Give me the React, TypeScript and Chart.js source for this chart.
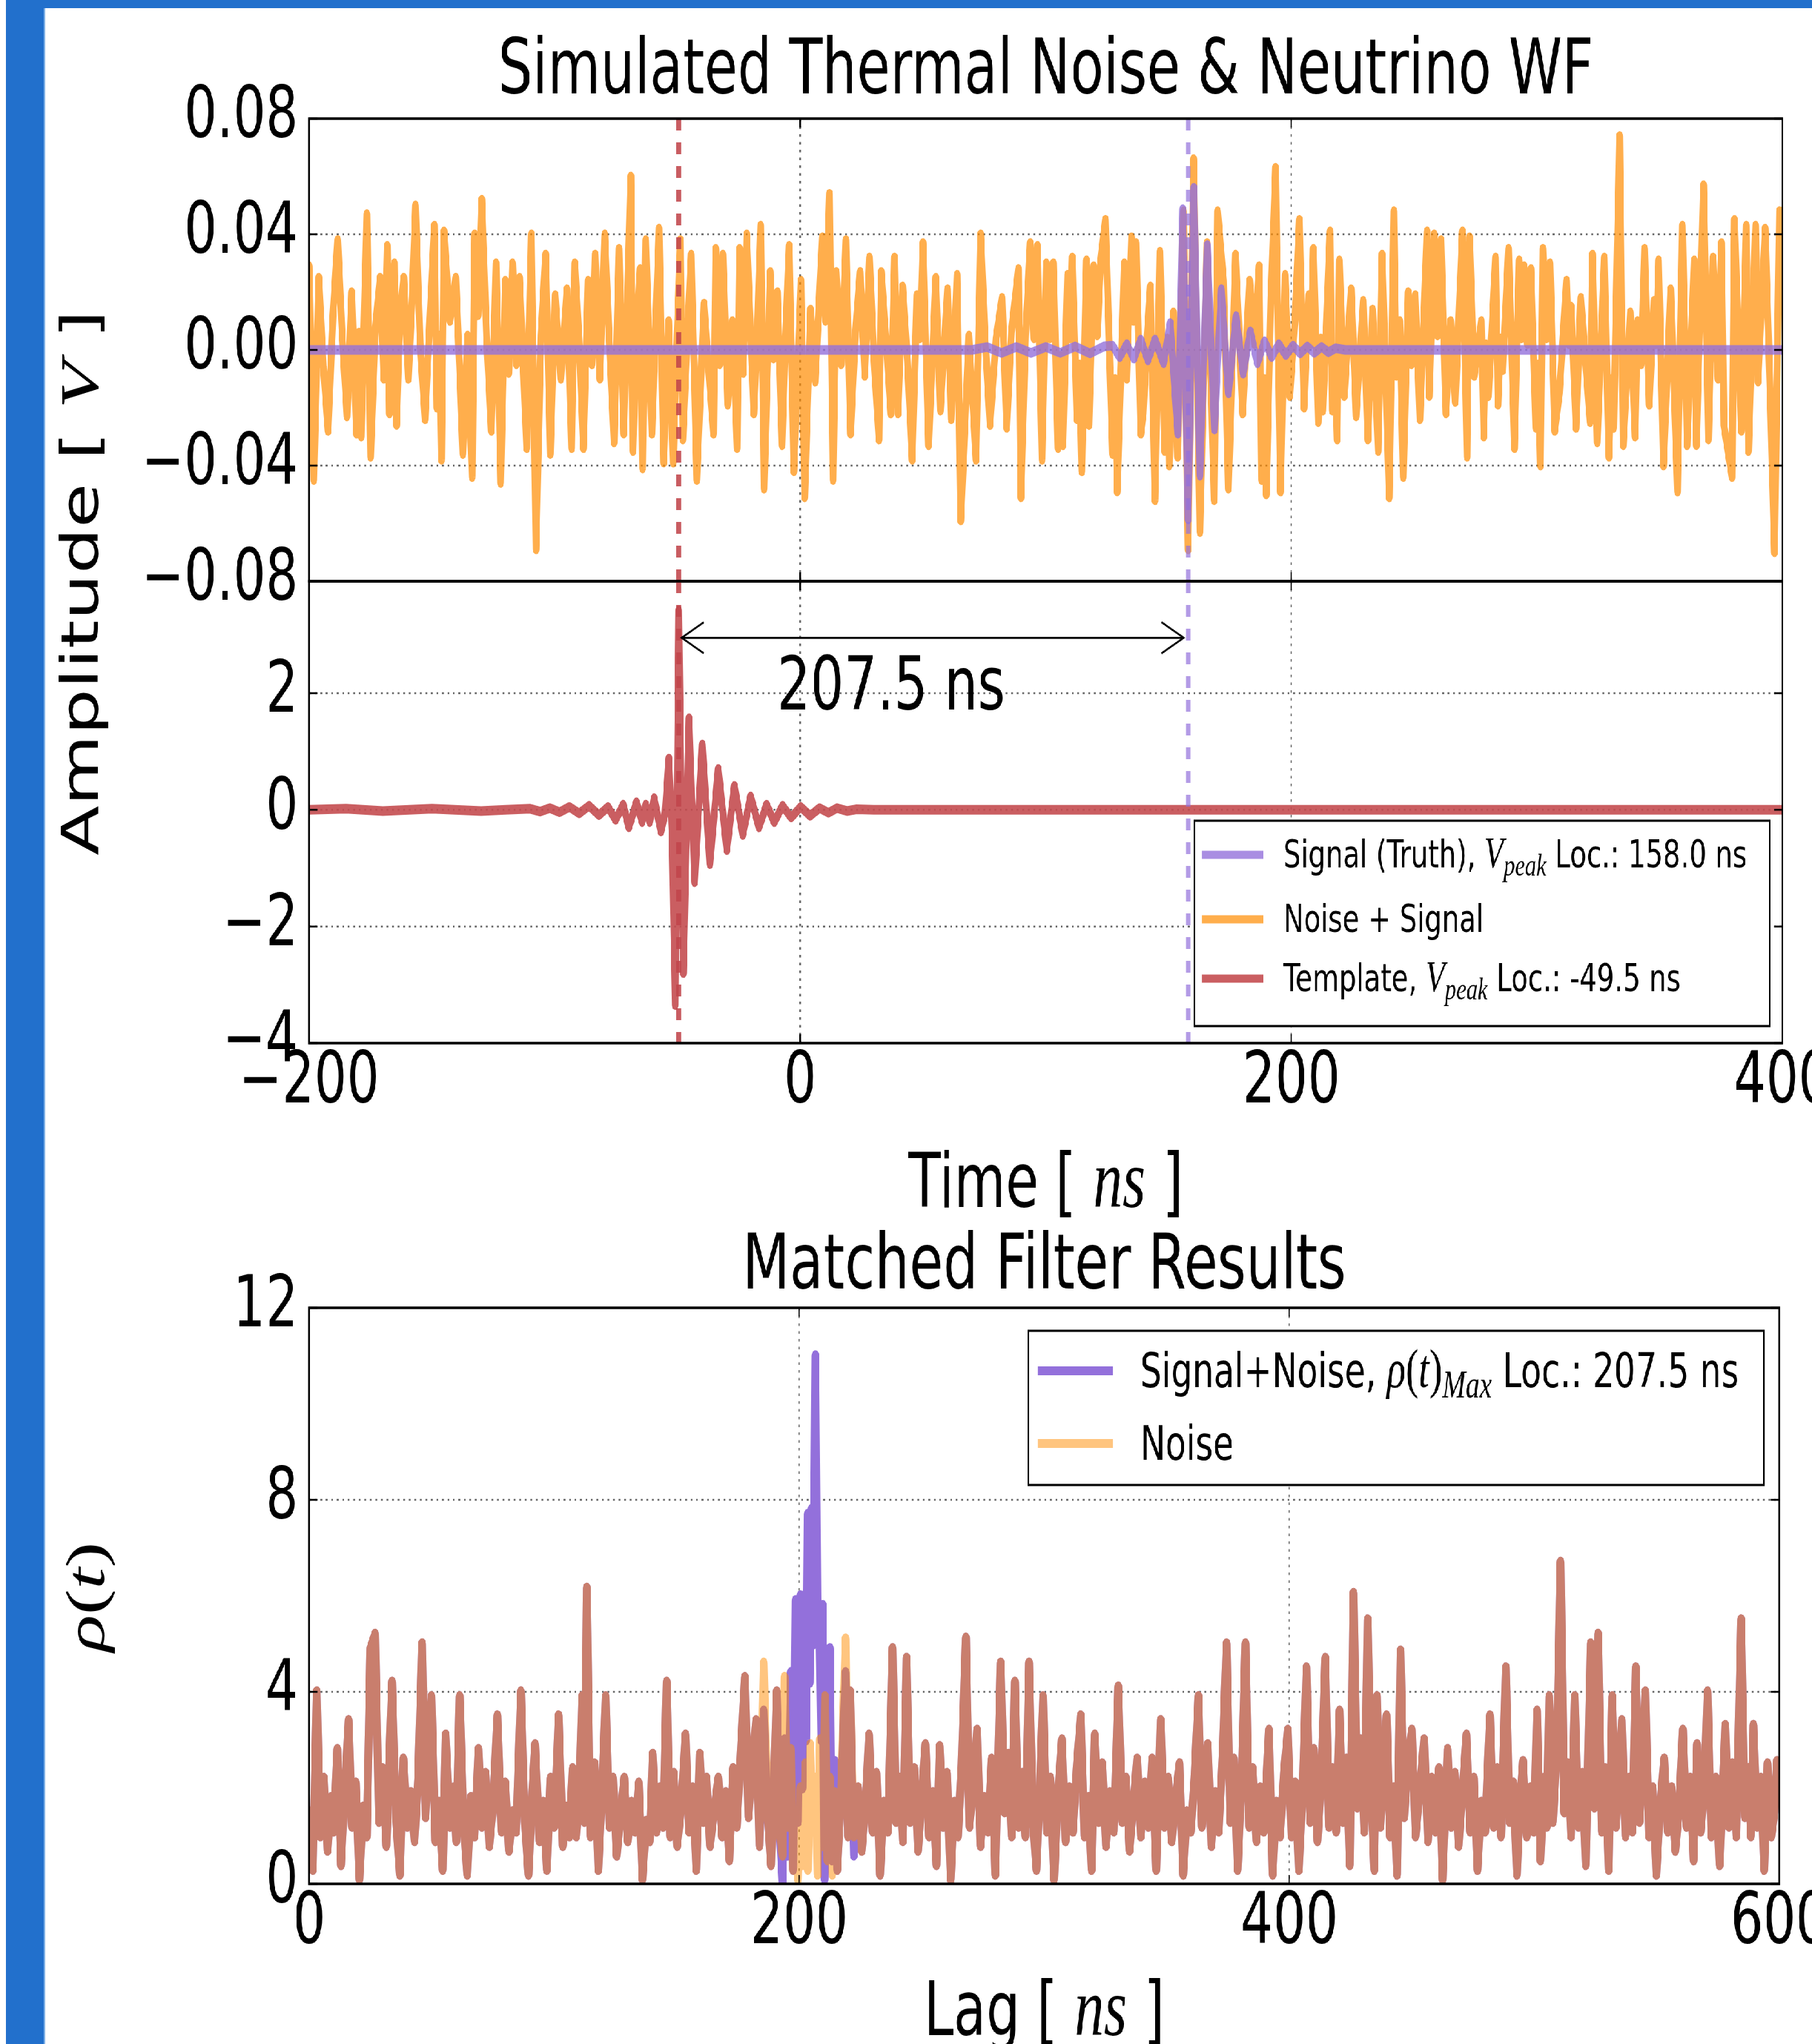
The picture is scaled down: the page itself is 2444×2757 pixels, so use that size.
import React, { useEffect, useRef } from 'react';
import { Chart, registerables } from 'chart.js';

Chart.register(...registerables);

// ---------------- ticks ----------------
const timeTicks = [-200, 0, 200, 400];
const timeTickLabels = ['\u2212200', '0', '200', '400'];
const ampTicks = [-0.08, -0.04, 0, 0.04, 0.08];
const ampTickLabels = ['\u22120.08', '\u22120.04', '0.00', '0.04', '0.08'];
const tplTicks = [-4, -2, 0, 2];
const tplTickLabels = ['\u22124', '\u22122', '0', '2'];
const lagTicks = [0, 200, 400, 600];
const lagTickLabels = ['0', '200', '400', '600'];
const rhoTicks = [0, 4, 8, 12];
const rhoTickLabels = ['0', '4', '8', '12'];

// ---------------- top panel: noise + signal (V) ----------------
const noisyTime = [
  -200, -198.1, -196.1, -194.2, -192.3, -190.3, -188.4, -186.5, -184.6, -182.7,
  -180.7, -179.7, -178.8, -176.5, -175.0, -173.0, -171.1, -169.6, -168.2, -167.3,
  -165.3, -164.4, -163.0, -161.5, -159.6, -158.2, -156.7, -154.8, -152.8, -150.9,
  -149.0, -148.0, -147.0, -146.1, -145.1, -142.7, -140.3, -138.8, -137.4, -135.5,
  -133.6, -132.6, -131.2, -129.7, -127.7, -125.8, -123.9, -122.0, -120.1, -118.7,
  -117.2, -115.6, -114.3, -111.4, -109.5, -107.6, -105.6, -103.7, -101.8, -99.8,
  -97.5, -95.0, -93.1, -91.8, -90.0, -88.3, -86.4, -84.8, -83.5, -81.6,
  -79.6, -77.7, -75.8, -73.8, -71.9, -69.0, -68.1, -66.6, -65.2, -64.2,
  -62.9, -60.4, -59.0, -57.5, -55.6, -53.6, -51.7, -50.2, -48.8, -47.8,
  -46.0, -44.4, -42.1, -39.2, -37.2, -35.3, -34.4, -32.8, -31.5, -29.5,
  -27.6, -25.7, -24.7, -23.2, -21.8, -18.9, -17.5, -16.1, -14.7, -12.2,
  -10.9, -9.3, -7.4, -6.0, -4.5, -2.6, 0.3, 1.8, 4.2, 6.1,
  9.0, 10.3, 11.9, 13.4, 14.7, 16.7, 18.6, 20.5, 22.5, 24.4,
  26.3, 28.2, 30.1, 32.1, 33.0, 35.0, 36.9, 38.4, 39.8, 41.7,
  43.7, 45.6, 47.5, 48.8, 50.0, 52.3, 55.2, 57.1, 60.0, 61.5,
  63.9, 65.4, 68.7, 71.6, 73.5, 75.4, 77.3, 79.8, 82.2, 84.1,
  86.0, 88.9, 89.9, 91.8, 93.7, 95.2, 96.6, 98.5, 100.2, 101.7,
  103.1, 105.0, 106.0, 107.0, 108.9, 109.9, 110.8, 112.7, 113.7, 114.7,
  116.6, 117.6, 119.5, 121.0, 122.4, 124.3, 127.2, 128.2, 129.1, 132.0,
  133.0, 134.9, 135.8, 136.8, 138.7, 139.7, 141.2, 142.6, 144.5, 146.5,
  148.4, 149.5, 150.3, 152.0, 153.7, 155.0, 156.1, 158.0, 160.2, 162.8,
  165.7, 168.6, 170.0, 172.4, 174.4, 177.3, 180.2, 182.0, 183.0, 185.0,
  186.9, 187.9, 188.9, 189.8, 191.7, 193.6, 195.6, 197.5, 199.4, 201.5,
  203.3, 205.2, 207.1, 208.1, 209.0, 211.0, 212.0, 212.9, 215.8, 216.7,
  217.7, 218.7, 219.6, 221.6, 224.4, 226.4, 229.3, 231.2, 233.1, 235.4,
  237.0, 239.9, 241.8, 242.8, 244.2, 245.6, 247.6, 249.0, 250.5, 252.4,
  255.3, 256.2, 258.2, 259.6, 261.0, 263.0, 264.9, 266.8, 269.7, 271.6,
  272.6, 274.5, 277.4, 278.4, 279.3, 280.3, 283.2, 284.2, 285.2, 286.1,
  288.5, 290.9, 292.8, 293.8, 294.8, 296.2, 297.6, 299.6, 300.5, 301.5,
  302.5, 304.0, 305.4, 307.3, 309.2, 312.1, 313.0, 314.0, 316.0, 317.9,
  321.7, 322.7, 324.6, 327.5, 329.4, 330.4, 331.3, 333.7, 335.2, 338.1,
  340.0, 341.0, 342.5, 343.9, 345.8, 347.7, 348.7, 349.6, 351.6, 354.5,
  357.3, 359.3, 361.2, 364.1, 365.0, 367.9, 369.9, 371.8, 373.8, 375.2,
  376.2, 379.5, 380.5, 383.3, 385.3, 386.2, 389.1, 390.1, 393.0, 394.9,
  396.8, 398.8, 400,
];
const noisyVolt = [
  0.029, -0.045, 0.025, -0.006, -0.028, 0.012, 0.038, 0.004, -0.023, 0.020,
  -0.029, 0.006, -0.030, 0.047, -0.037, 0.008, 0.025, -0.010, 0.036, -0.022,
  0.030, -0.026, 0.012, 0.025, -0.010, 0.015, 0.050, 0.002, -0.024, 0.010,
  0.043, -0.020, 0.005, -0.038, 0.041, 0.010, 0.025, -0.005, -0.036, 0.005,
  -0.044, 0.040, 0.012, 0.052, 0.004, -0.028, 0.030, -0.046, 0.024, -0.008,
  0.030, -0.005, 0.025, -0.034, 0.040, -0.069, 0.005, 0.033, -0.036, 0.019,
  -0.010, 0.021, -0.034, 0.030, 0.002, -0.034, 0.024, -0.005, 0.033, -0.010,
  0.040, 0.002, -0.032, 0.035, -0.029, 0.060, -0.035, 0.008, 0.028, -0.041,
  0.038, -0.029, 0.006, 0.042, -0.039, 0.010, -0.039, 0.005, 0.038, -0.031,
  0.004, 0.033, -0.045, 0.016, -0.008, -0.029, 0.035, -0.005, 0.033, -0.019,
  0.010, -0.034, 0.035, -0.008, 0.040, -0.022, 0.005, 0.043, -0.048, 0.027,
  -0.003, 0.020, -0.033, 0.004, 0.036, -0.042, 0.024, -0.051, 0.014, -0.011,
  0.039, 0.010, 0.054, -0.045, 0.027, -0.005, 0.038, -0.029, 0.006, 0.027,
  -0.009, 0.032, -0.004, -0.031, 0.027, 0.003, -0.022, 0.032, -0.022, 0.022,
  -0.004, -0.038, 0.019, 0.004, 0.037, -0.033, 0.025, -0.021, 0.021, -0.024,
  0.026, -0.059, 0.005, -0.038, 0.040, 0.002, -0.026, 0.004, 0.018, -0.027,
  0.006, 0.028, -0.051, 0.005, 0.037, 0.004, 0.036, -0.038, 0.030, 0.004,
  0.030, -0.034, -0.002, -0.033, 0.026, 0.004, 0.032, -0.024, -0.005, -0.042,
  0.031, -0.026, 0.029, 0.005, 0.031, 0.045, -0.036, -0.010, -0.049, 0.030,
  -0.010, 0.039, 0.010, 0.037, -0.029, -0.022, 0.004, 0.022, -0.052, 0.034,
  -0.035, 0.004, -0.040, 0.013, -0.037, 0.010, 0.048, -0.069, 0.066, -0.063,
  0.037, -0.052, 0.048, 0.024, -0.048, 0.033, -0.022, 0.008, 0.024, 0.002,
  0.029, -0.045, -0.010, -0.050, 0.018, 0.063, -0.049, 0.026, -0.016, 0.010,
  0.045, -0.020, 0.019, 0.002, 0.035, -0.025, 0.004, -0.021, 0.041, -0.021,
  -0.002, -0.031, 0.031, -0.016, 0.021, -0.023, 0.017, -0.031, 0.014, -0.035,
  0.033, -0.051, 0.048, -0.009, 0.010, -0.044, 0.020, -0.005, 0.019, -0.024,
  0.041, -0.016, 0.040, 0.005, 0.038, -0.022, 0.010, -0.018, 0.041, -0.037,
  0.039, -0.009, 0.010, -0.030, 0.002, -0.016, 0.032, -0.019, 0.004, -0.007,
  0.035, -0.034, 0.031, 0.004, 0.029, 0.002, 0.028, -0.027, -0.005, -0.040,
  0.035, 0.004, 0.030, -0.028, -0.015, 0.024, 0.002, 0.015, -0.027, 0.018,
  -0.025, 0.033, -0.032, 0.032, -0.037, -0.010, -0.027, 0.074, -0.033, 0.013,
  -0.030, 0.010, -0.005, 0.035, -0.019, 0.017, 0.002, 0.031, -0.040, 0.021,
  -0.049, 0.043, -0.033, 0.031, -0.033, 0.057, -0.031, 0.032, -0.010, 0.037,
  -0.026, -0.044, 0.045, -0.028, 0.043, -0.035, 0.043, -0.011, 0.042, -0.011,
  -0.070, 0.048, 0.040,
];

// ---------------- top panel: signal truth (V) ----------------
const truthTime = [
  -200, 70, 76, 82, 88, 94, 100, 106, 112, 118, 124, 127.2, 130.1, 133.0, 135.9,
  138.7, 141.6, 144.5, 148.0, 150.7, 153.8, 155.8, 158.0, 160.3, 162.8, 165.8,
  168.7, 171.5, 174.4, 177.5, 180.4, 183.3, 186.2, 189.1, 192.0, 194.9, 197.8,
  200.7, 203.6, 206.5, 209.4, 212.3, 215.2, 218, 222, 400,
];
const truthVolt = [
  0, 0, 0.001, -0.001, 0.001, -0.001, 0.001, -0.001, 0.0012, -0.0012, 0.0013, 0.0015, -0.0025, 0.002, -0.003,
  0.0036, -0.0036, 0.0036, -0.0046, 0.0093, -0.029, 0.0487, -0.0586, 0.0561, -0.0435, 0.0363,
  -0.0275, 0.021, -0.015, 0.0117, -0.0082, 0.0064, -0.0046, 0.003, -0.0025, 0.002, -0.0018,
  0.0015, -0.0012, 0.0012, -0.001, 0.001, -0.0008, 0.0006, 0, 0,
];

// ---------------- middle panel: template ----------------
const tplTime = [
  -200, -185, -170, -150, -130, -120, -110, -106, -102, -98, -94, -90, -86, -82,
  -78.3, -75.2, -72.1, -69.8, -66.7, -64.4, -62.9, -61.3, -59.5, -56.7, -55.0, -53.5,
  -52.2, -50.9, -49.5, -47.6, -45.3, -43.0, -39.9, -36.8, -33.4, -29.9, -26.8, -23.4,
  -20.2, -16.8, -13.7, -10.6, -7.2, -3.7, 0.2, 4.0, 7.9, 11.5, 15, 19, 23, 30, 400,
];
const tplVolt = [
  0, 0.02, -0.02, 0.02, -0.02, 0, 0.02, -0.03, 0.03, -0.04, 0.05, -0.06, 0.07, -0.09,
  0.05, -0.17, 0.09, -0.30, 0.13, -0.21, 0.09, -0.21, 0.20, -0.37, -0.05, 0.88,
  -0.40, -3.35, 3.42, -2.80, 1.57, -1.24, 1.12, -0.93, 0.70, -0.69, 0.41, -0.43,
  0.23, -0.30, 0.09, -0.21, 0.07, -0.13, 0.05, -0.10, 0.03, -0.05, 0.03, -0.02, 0.01, 0, 0,
];

// ---------------- bottom panel: matched filter rho(t) ----------------
const lag = [
  0, 1.5, 3.1, 4.5, 6, 7.5, 9, 10, 11.5, 13,
  14.5, 16.1, 17.5, 19, 20.5, 22, 23.5, 25, 26.9, 28.5,
  30, 31.5, 33.8, 35.5, 37, 38.4, 40, 41.5, 43, 44.5,
  46.1, 47.5, 49.9, 51.5, 53, 54.5, 55.7, 57.5, 59, 60,
  61.4, 63, 64.5, 66, 67.5, 69.1, 70.5, 72, 73.5, 75,
  76.8, 78.5, 80, 81.5, 83, 84.5, 86.4, 88, 89.5, 91,
  92.2, 94, 95.5, 97, 98.5, 100, 101.8, 103.5, 105, 106.2,
  107.5, 109, 110.2, 111.4, 112.3, 113.3, 114.8, 116.5, 118, 119.5,
  121, 122.5, 124, 125.5, 127, 128.6, 130, 131.5, 133, 134.5,
  136, 137.5, 139, 140.2, 141.8, 143.2, 144.5, 145.9, 147.3, 148.8,
  150.2, 151.8, 153.6, 155, 156.5, 158, 159.4, 160.8, 162.2, 163.6,
  165.2, 167, 168.5, 170, 171.5, 173, 174.5, 176, 177.8, 179.3,
  180.8, 182.4, 183.8, 185.5, 187, 188.5, 190, 190.8, 192.2, 193.2,
  194, 195.3, 196.6, 197.5, 198.5, 199.5, 200.5, 201.5, 202.5, 203.5,
  204.5, 205.5, 206.6, 207.5, 208.5, 209.5, 210.5, 211.5, 212.5, 213.5,
  214.5, 215.5, 217, 218.9, 219.9, 220.8, 222.3, 224, 225.5, 227,
  228.5, 230, 231.5, 233, 234.5, 236.2, 238.1, 239.5, 241, 242.3,
  243.8, 245.3, 247, 248.5, 250, 251.5, 253, 254.5, 256, 257.3,
  258.8, 260.3, 261.8, 263.3, 264.8, 266.3, 268, 269.5, 271, 272.6,
  274, 275.5, 277, 278.5, 280, 282.2, 283.8, 285.3, 286.7, 288,
  289.5, 291, 292.3, 293.8, 295.3, 296.8, 298.2, 299.5, 301, 302.5,
  304, 305.6, 307.2, 308.7, 310.2, 311.7, 313.2, 314.9, 316.4, 318,
  319.3, 320.6, 322.2, 323.7, 325.2, 326.7, 328.4, 330.2, 331.8, 333.3,
  334.8, 336.3, 337.9, 339.4, 341, 342.5, 344, 345.7, 347.5, 349,
  350.6, 352, 353.6, 355.2, 356.7, 358.2, 359.8, 361.3, 362.9, 364.3,
  365.5, 366.7, 368.2, 369.7, 371.2, 372.8, 374.4, 375.9, 377.4, 378.9,
  380.5, 382.1, 383.6, 385.1, 386.6, 388.1, 389.6, 391.7, 393.2, 394.7,
  396.2, 397.8, 399.4, 400.9, 402.4, 403.9, 405.4, 407, 408.5, 410,
  411.5, 413, 414.7, 416.2, 417.7, 419.1, 420.5, 421.9, 423.3, 424.7,
  426.2, 427.7, 429.1, 430.6, 432, 433.5, 434.7, 435.8, 437.2, 438.5,
  439.7, 441.1, 442.6, 444, 445.4, 446.9, 448.4, 450, 451.5, 453,
  455, 456.6, 458.1, 459.6, 461.1, 462.6, 464.6, 466.1, 467.6, 469.1,
  470.6, 472.3, 473.8, 475.3, 476.8, 478.3, 479.9, 481.9, 483.4, 484.9,
  486.4, 488.4, 489.9, 491.4, 492.9, 494.2, 495.4, 496.9, 498.4, 499.8,
  501.1, 502.5, 504, 505.1, 506.1, 507.6, 509.2, 510.7, 512.2, 513.7,
  515, 516.5, 518, 519.5, 521, 523, 524.5, 526, 527.5, 529,
  530.4, 531.8, 533.3, 534.5, 535.7, 537.2, 538.7, 540, 541.4, 542.9,
  544.1, 545.3, 546.8, 548.3, 549.8, 551.5, 553, 554.5, 556, 557.5,
  559, 560.6, 562.1, 563.6, 565, 566.4, 567.9, 569.4, 570.7, 572.2,
  574.1, 575.6, 577.9, 579.4, 580.9, 582.4, 584.4, 585.9, 587.4, 588.4,
  589.4, 590.9, 592.4, 593.8, 595.2, 596.7, 598, 599, 600,
];
const rhoNoise = [
  1.5, 0.3, 4.0, 1.0, 2.2, 0.7, 1.8, 1.1, 2.8, 0.4,
  1.9, 3.4, 1.2, 2.1, 0.1, 1.6, 1.0, 4.9, 5.2, 1.3,
  2.4, 0.8, 4.2, 1.3, 0.2, 2.6, 1.2, 1.9, 0.9, 2.2,
  5.0, 1.4, 3.9, 0.9, 1.7, 0.3, 3.1, 1.2, 2.0, 0.9,
  3.9, 1.3, 0.2, 1.8, 1.0, 2.8, 1.2, 2.3, 0.8, 1.6,
  3.5, 1.1, 2.1, 0.7, 1.5, 1.1, 4.0, 1.3, 0.2, 1.9,
  2.9, 0.9, 1.7, 0.3, 2.2, 1.2, 3.5, 0.8, 1.6, 1.0,
  2.4, 1.0, 1.8, 3.9, 1.3, 6.16, 1.0, 2.5, 0.3, 1.9,
  3.9, 1.2, 2.2, 0.6, 1.4, 2.2, 0.9, 1.7, 1.1, 2.1,
  0.1, 1.3, 0.9, 2.7, 1.1, 2.0, 1.2, 4.2, 1.0, 2.3,
  0.8, 1.6, 3.1, 1.1, 2.0, 0.3, 2.7, 1.3, 2.2, 0.8,
  1.5, 2.2, 1.0, 1.9, 0.5, 2.4, 1.2, 2.6, 4.3, 1.4,
  2.5, 3.4, 0.8, 4.6, 1.5, 0.4, 2.6, 4.0, 1.0, 0.6,
  4.3, 1.2, 2.8, 0.3, 1.2, 0.1, 2.0, 0.4, 2.5, 0.3,
  2.9, 1.1, 2.2, 0.2, 3.0, 0.8, 3.9, 0.5, 2.2, 0.2,
  1.9, 0.3, 1.8, 5.1, 1.0, 4.0, 1.0, 2.0, 0.7, 1.6,
  3.1, 1.1, 2.3, 0.2, 1.7, 1.1, 4.9, 1.3, 2.2, 0.9,
  4.7, 1.3, 2.4, 0.7, 1.8, 2.9, 1.0, 1.9, 0.4, 2.86,
  1.2, 2.3, 0.1, 1.7, 1.0, 2.5, 5.12, 1.2, 2.0, 3.2,
  0.8, 1.8, 1.1, 2.6, 0.2, 4.6, 1.5, 2.7, 1.0, 4.2,
  1.2, 2.3, 1.0, 4.6, 1.4, 0.3, 2.0, 3.9, 1.1, 2.2,
  0.1, 1.9, 3.0, 0.9, 2.0, 1.1, 2.4, 3.5, 1.0, 1.8,
  0.3, 3.1, 1.3, 2.5, 0.8, 1.9, 1.1, 4.1, 1.3, 2.2,
  0.7, 1.6, 2.6, 1.0, 2.1, 1.2, 2.6, 0.3, 3.4, 1.2,
  2.2, 0.9, 1.8, 2.5, 0.2, 1.5, 1.1, 2.2, 3.9, 1.2,
  2.0, 2.9, 0.8, 1.9, 1.1, 2.7, 5.0, 1.3, 2.6, 0.3,
  2.1, 5.0, 1.2, 2.4, 0.9, 2.0, 1.1, 3.2, 0.2, 1.7,
  1.0, 2.3, 3.2, 1.0, 2.1, 0.3, 1.9, 4.5, 1.3, 2.8,
  0.9, 2.2, 4.7, 1.2, 2.4, 1.1, 3.6, 1.3, 2.6, 0.4,
  6.05, 1.6, 3.0, 1.1, 5.5, 1.8, 0.3, 3.9, 1.2, 2.4,
  3.5, 1.0, 2.0, 0.2, 4.85, 1.4, 2.6, 3.2, 1.0, 1.8,
  3.0, 0.9, 2.2, 1.1, 2.4, 0.1, 2.8, 1.2, 2.3, 0.8,
  1.9, 3.1, 1.1, 2.2, 0.3, 1.7, 1.1, 3.5, 1.2, 2.4,
  1.0, 4.5, 1.3, 2.1, 0.2, 1.8, 2.55, 1.0, 2.0, 1.1,
  3.6, 0.5, 2.2, 1.2, 3.9, 1.3, 2.8, 6.7, 1.5, 2.5,
  1.0, 3.9, 1.2, 2.3, 0.4, 5.0, 1.6, 5.2, 1.1, 2.4,
  0.3, 3.9, 1.2, 2.1, 3.4, 1.0, 2.2, 1.1, 4.5, 1.3,
  2.5, 4.0, 1.0, 2.0, 0.2, 1.7, 2.6, 1.1, 2.0, 0.7,
  1.5, 3.2, 1.2, 2.2, 0.5, 2.9, 1.1, 2.0, 4.0, 1.0,
  2.2, 0.4, 3.3, 1.2, 2.5, 1.0, 5.5, 1.4, 2.4, 1.0,
  3.3, 1.2, 2.2, 0.3, 2.5, 1.0, 1.5, 2.55, 1.8,
];
// signal+noise differs from noise only around the correlation peak
const peakLag = [
  183.8, 185.5, 187, 188.5, 190, 190.8, 192.2, 193.2, 194, 195.3,
  196.6, 197.5, 198.5, 199.5, 200.5, 201.3, 202, 202.8, 203.5, 204.3,
  205, 205.8, 206.6, 207.4, 208.2, 209, 209.6, 210.3, 211.2, 212.5,
  213.3, 214.5, 215.5, 217, 218.9, 219.9, 220.8, 222.3,
];
const peakRhoSignal = [
  0.8, 3.6, 1.5, 0.4, 2.6, 4.0, 1.0, 0.0, 3.0, 0.6,
  4.4, 0.3, 5.9, 1.3, 6.0, 2.0, 6.0, 3.0, 7.7, 4.2,
  7.8, 5.0, 11.0, 5.5, 5.8, 3.0, 5.8, 0.1, 2.5, 4.9,
  0.5, 2.55, 0.3, 1.8, 4.4, 1.0, 4.0, 0.6,
];

// annotation values
const truthPeakLoc = 158.0;
const tplPeakLoc = -49.5;
const arrowSpan = [-48.3, 156.2];
const arrowLevel = 2.95;

// ---------------- geometry / styles ----------------
const SX = 0.71;
const PAGE_W = 2444;
const PAGE_H = 2757;
const CANVAS_W = Math.ceil(PAGE_W / SX);
const wx = (x: number) => x / SX;
const PLOT_LEFT = 417;

const SANS = '"DejaVu Sans", "Liberation Sans", sans-serif';
const SERIF = '"Liberation Serif", "DejaVu Serif", serif';
const sans = (s: number) => `${s}px ${SANS}`;
const mIt = (s: number) => `italic ${s}px ${SERIF}`;
const mUp = (s: number) => `${s}px ${SERIF}`;

const ORANGE_T = 'rgba(255,140,0,0.7)';
const PURPLE_T = 'rgba(147,112,219,0.8)';
const RED_T = 'rgba(196,76,80,0.9)';
const PURPLE_B = 'rgb(147,112,219)';
const ORANGE_B = 'rgba(255,140,0,0.5)';
const RED_DASH = 'rgba(192,70,75,0.88)';
const PURPLE_DASH = 'rgba(147,112,219,0.7)';

const LW_TOP = 13;
const LW_BOTTOM = 15;

type Run = { t: string; f: string; dy?: number };
type TextItem = { runs: Run[]; x: number; y: number; align: 'left' | 'center'; rot?: boolean; data?: boolean };
type LegendRow = { color: string; lw: number; runs: Run[] };
type LegendCfg = {
  x1: number; y1: number; x2: number; y2: number;
  sx1: number; sx2: number; tx: number; rowsY: number[]; base: number; rows: LegendRow[];
};
type DecorCfg = {
  xTicks: number[]; yTicks: number[];
  vlines?: { v: number; color: string }[];
  texts?: TextItem[];
  legend?: LegendCfg;
  arrow?: { x1: number; x2: number; y: number };
};

function runsWidth(ctx: CanvasRenderingContext2D, runs: Run[]) {
  let w = 0;
  for (const r of runs) { ctx.font = r.f; w += ctx.measureText(r.t).width; }
  return w;
}
function drawRuns(ctx: CanvasRenderingContext2D, runs: Run[], x: number, y: number, align: 'left' | 'center') {
  const w = runsWidth(ctx, runs);
  let cx = align === 'center' ? x - w / 2 : x;
  ctx.textAlign = 'left';
  ctx.textBaseline = 'alphabetic';
  for (const r of runs) {
    ctx.font = r.f;
    ctx.fillText(r.t, cx, y + (r.dy || 0));
    cx += ctx.measureText(r.t).width;
  }
}

function decorPlugin(id: string, cfg: DecorCfg) {
  return {
    id,
    beforeDatasetsDraw(chart: any) {
      const { ctx, chartArea: a } = chart;
      const xs = chart.scales.x, ys = chart.scales.y;
      ctx.save();
      ctx.strokeStyle = 'rgba(0,0,0,0.6)';
      ctx.lineWidth = 2.5;
      ctx.setLineDash([3.5, 7]);
      ctx.beginPath();
      for (const v of cfg.xTicks) {
        const p = xs.getPixelForValue(v);
        if (p > a.left + 3 && p < a.right - 3) { ctx.moveTo(p, a.top); ctx.lineTo(p, a.bottom); }
      }
      for (const v of cfg.yTicks) {
        const p = ys.getPixelForValue(v);
        if (p > a.top + 3 && p < a.bottom - 3) { ctx.moveTo(a.left, p); ctx.lineTo(a.right, p); }
      }
      ctx.stroke();
      ctx.restore();
    },
    afterDatasetsDraw(chart: any) {
      const { ctx, chartArea: a } = chart;
      const xs = chart.scales.x, ys = chart.scales.y;
      ctx.save();
      for (const vl of cfg.vlines || []) {
        const p = xs.getPixelForValue(vl.v);
        ctx.strokeStyle = vl.color;
        ctx.lineWidth = 9;
        ctx.setLineDash([16, 16]);
        ctx.beginPath(); ctx.moveTo(p, a.top); ctx.lineTo(p, a.bottom); ctx.stroke();
      }
      ctx.setLineDash([]);
      ctx.strokeStyle = '#000';
      ctx.lineWidth = 3.5;
      ctx.strokeRect(a.left, a.top, a.right - a.left, a.bottom - a.top);
      ctx.lineWidth = 2.5;
      ctx.beginPath();
      for (const v of cfg.xTicks) {
        const p = xs.getPixelForValue(v);
        ctx.moveTo(p, a.bottom); ctx.lineTo(p, a.bottom - 12);
        ctx.moveTo(p, a.top); ctx.lineTo(p, a.top + 12);
      }
      for (const v of cfg.yTicks) {
        const p = ys.getPixelForValue(v);
        ctx.moveTo(a.left, p); ctx.lineTo(a.left + 16, p);
        ctx.moveTo(a.right, p); ctx.lineTo(a.right - 16, p);
      }
      ctx.stroke();
      if (cfg.arrow) {
        const y = ys.getPixelForValue(cfg.arrow.y);
        const x1 = xs.getPixelForValue(cfg.arrow.x1);
        const x2 = xs.getPixelForValue(cfg.arrow.x2);
        const hl = wx(30), hw = 21;
        ctx.strokeStyle = '#000';
        ctx.lineWidth = 2.8;
        ctx.beginPath();
        ctx.moveTo(x1, y); ctx.lineTo(x2, y);
        ctx.moveTo(x1 + hl, y - hw); ctx.lineTo(x1, y); ctx.lineTo(x1 + hl, y + hw);
        ctx.moveTo(x2 - hl, y - hw); ctx.lineTo(x2, y); ctx.lineTo(x2 - hl, y + hw);
        ctx.stroke();
      }
      ctx.fillStyle = '#000';
      for (const t of cfg.texts || []) {
        let x = t.x, y = t.y;
        if (t.data) { x = xs.getPixelForValue(t.x); y = ys.getPixelForValue(t.y); }
        if (t.rot) {
          ctx.save();
          ctx.translate(x, y);
          ctx.rotate(-Math.PI / 2);
          drawRuns(ctx, t.runs, 0, 0, t.align);
          ctx.restore();
        } else {
          drawRuns(ctx, t.runs, x, y, t.align);
        }
      }
      if (cfg.legend) {
        const L = cfg.legend;
        ctx.fillStyle = '#fff';
        ctx.fillRect(L.x1, L.y1, L.x2 - L.x1, L.y2 - L.y1);
        ctx.strokeStyle = '#000';
        ctx.lineWidth = 3;
        ctx.strokeRect(L.x1, L.y1, L.x2 - L.x1, L.y2 - L.y1);
        L.rows.forEach((r, i) => {
          const y = L.rowsY[i];
          ctx.strokeStyle = r.color;
          ctx.lineWidth = r.lw;
          ctx.lineCap = 'butt';
          ctx.beginPath(); ctx.moveTo(L.sx1, y); ctx.lineTo(L.sx2, y); ctx.stroke();
          ctx.fillStyle = '#000';
          drawRuns(ctx, r.runs, L.tx, y + L.base, 'left');
        });
      }
      ctx.restore();
    },
  };
}

const TICK_FONT = { family: '"DejaVu Sans"', size: 97, lineHeight: 1.12 };

function buildConfig(p: {
  id: string; datasets: any[]; canvasH: number; top: number; bottom: number; right: number;
  xMin: number; xMax: number; yMin: number; yMax: number;
  xTicks: number[]; xLabels: string[]; showX: boolean;
  yTicks: number[]; yLabels: string[]; decor: DecorCfg;
}) {
  return {
    type: 'line',
    data: { datasets: p.datasets },
    options: {
      animation: false,
      responsive: false,
      devicePixelRatio: 1,
      events: [],
      layout: { padding: { left: 0, right: CANVAS_W - wx(p.right), top: p.top, bottom: 0 } },
      plugins: { legend: { display: false }, tooltip: { enabled: false }, title: { display: false } },
      elements: {
        point: { radius: 0 },
        line: { tension: 0, borderJoinStyle: 'round', borderCapStyle: 'round' },
      },
      scales: {
        x: {
          type: 'linear', min: p.xMin, max: p.xMax,
          grid: { display: false, drawTicks: false },
          border: { display: false },
          ticks: {
            display: p.showX, font: TICK_FONT, color: '#000', padding: 0,
            maxRotation: 0, autoSkip: false,
            callback: (_v: any, i: number) => p.xLabels[i],
          },
          afterBuildTicks: (s: any) => { s.ticks = p.xTicks.map((value) => ({ value })); },
          afterFit: (s: any) => {
            s.height = p.canvasH - p.bottom;
            s.paddingLeft = 0; s.paddingRight = 0; s.paddingTop = 0; s.paddingBottom = 0;
          },
        },
        y: {
          type: 'linear', min: p.yMin, max: p.yMax,
          grid: { display: false, drawTicks: false },
          border: { display: false },
          ticks: {
            font: TICK_FONT, color: '#000', padding: wx(PLOT_LEFT) - wx(402), autoSkip: false,
            callback: (_v: any, i: number) => p.yLabels[i],
          },
          afterBuildTicks: (s: any) => { s.ticks = p.yTicks.map((value) => ({ value })); },
          afterFit: (s: any) => {
            s.width = wx(PLOT_LEFT);
            s.paddingLeft = 0; s.paddingRight = 0; s.paddingTop = 0; s.paddingBottom = 0;
          },
        },
      },
    },
    plugins: [decorPlugin(p.id, p.decor)],
  } as any;
}

const pts = (xs: number[], ys: number[]) => xs.map((x, i) => ({ x, y: ys[i] }));

const A_TOP = 0, A_H = 1450;
const B_TOP = 700, B_H = 1000;
const C_TOP = 1600, C_H = 1157;

function configA() {
  return buildConfig({
    id: 'decorA',
    datasets: [
      { data: pts(noisyTime, noisyVolt), borderColor: ORANGE_T, borderWidth: LW_TOP, order: 2 },
      { data: pts(truthTime, truthVolt), borderColor: PURPLE_T, borderWidth: LW_TOP, order: 1 },
    ],
    canvasH: A_H, top: 160 - A_TOP, bottom: 784 - A_TOP, right: 2404,
    xMin: -200, xMax: 400, yMin: -0.08, yMax: 0.08,
    xTicks: timeTicks, xLabels: timeTickLabels, showX: false,
    yTicks: ampTicks, yLabels: ampTickLabels,
    decor: {
      xTicks: timeTicks, yTicks: ampTicks,
      vlines: [{ v: tplPeakLoc, color: RED_DASH }, { v: truthPeakLoc, color: PURPLE_DASH }],
      texts: [
        { runs: [{ t: 'Simulated Thermal Noise & Neutrino WF', f: sans(103) }], x: wx(1410.5), y: 126 - A_TOP, align: 'center' },
        {
          runs: [{ t: 'Amplitude [ ', f: sans(98) }, { t: 'V', f: mIt(104) }, { t: ' ]', f: sans(98) }],
          x: wx(132), y: 786 - A_TOP, align: 'center', rot: true,
        },
      ],
    },
  });
}

function configB() {
  return buildConfig({
    id: 'decorB',
    datasets: [{ data: pts(tplTime, tplVolt), borderColor: RED_T, borderWidth: LW_TOP }],
    canvasH: B_H, top: 784 - B_TOP, bottom: 1407 - B_TOP, right: 2404,
    xMin: -200, xMax: 400, yMin: -4, yMax: 3.92,
    xTicks: timeTicks, xLabels: timeTickLabels, showX: true,
    yTicks: tplTicks, yLabels: tplTickLabels,
    decor: {
      xTicks: timeTicks, yTicks: tplTicks,
      vlines: [{ v: tplPeakLoc, color: RED_DASH }, { v: truthPeakLoc, color: PURPLE_DASH }],
      arrow: { x1: arrowSpan[0], x2: arrowSpan[1], y: arrowLevel },
      texts: [
        { runs: [{ t: '207.5 ns', f: sans(100) }], x: -9.5, y: 1.72, align: 'left', data: true },
        {
          runs: [{ t: 'Time [ ', f: sans(101) }, { t: 'ns', f: mIt(112) }, { t: ' ]', f: sans(101) }],
          x: wx(1410.5), y: 1628 - B_TOP, align: 'center',
        },
      ],
      legend: {
        x1: wx(1611), y1: 1107 - B_TOP, x2: wx(2387), y2: 1384 - B_TOP,
        sx1: wx(1621), sx2: wx(1704), tx: wx(1731),
        rowsY: [1153 - B_TOP, 1240 - B_TOP, 1320 - B_TOP], base: 17,
        rows: [
          {
            color: PURPLE_T, lw: 11,
            runs: [
              { t: 'Signal (Truth), ', f: sans(52) }, { t: 'V', f: mIt(60) },
              { t: 'peak', f: mIt(43), dy: 11 }, { t: ' Loc.: 158.0 ns', f: sans(52) },
            ],
          },
          { color: ORANGE_T, lw: 11, runs: [{ t: 'Noise + Signal', f: sans(52) }] },
          {
            color: RED_T, lw: 11,
            runs: [
              { t: 'Template, ', f: sans(52) }, { t: 'V', f: mIt(60) },
              { t: 'peak', f: mIt(43), dy: 11 }, { t: ' Loc.: -49.5 ns', f: sans(52) },
            ],
          },
        ],
      },
    },
  });
}

function configC() {
  const lo = peakLag[0], hi = peakLag[peakLag.length - 1];
  const sigNoise = pts(lag, rhoNoise)
    .filter((p) => p.x < lo || p.x > hi)
    .concat(pts(peakLag, peakRhoSignal))
    .sort((a, b) => a.x - b.x);
  return buildConfig({
    id: 'decorC',
    datasets: [
      { data: sigNoise, borderColor: PURPLE_B, borderWidth: LW_BOTTOM, order: 2 },
      { data: pts(lag, rhoNoise), borderColor: ORANGE_B, borderWidth: LW_BOTTOM, order: 1 },
    ],
    canvasH: C_H, top: 1764 - C_TOP, bottom: 2541 - C_TOP, right: 2400,
    xMin: 0, xMax: 600, yMin: 0, yMax: 12,
    xTicks: lagTicks, xLabels: lagTickLabels, showX: true,
    yTicks: rhoTicks, yLabels: rhoTickLabels,
    decor: {
      xTicks: lagTicks, yTicks: rhoTicks,
      texts: [
        { runs: [{ t: 'Matched Filter Results', f: sans(104) }], x: wx(1408.5), y: 1738 - C_TOP, align: 'center' },
        {
          runs: [{ t: 'Lag [ ', f: sans(101) }, { t: 'ns', f: mIt(112) }, { t: ' ]', f: sans(101) }],
          x: wx(1408.5), y: 2745 - C_TOP, align: 'center',
        },
        {
          runs: [{ t: '\u03c1', f: mIt(104) }, { t: '(', f: mUp(104) }, { t: 't', f: mIt(104) }, { t: ')', f: mUp(104) }],
          x: wx(140), y: 2154 - C_TOP, align: 'center', rot: true,
        },
      ],
      legend: {
        x1: wx(1387), y1: 1795 - C_TOP, x2: wx(2379), y2: 2003 - C_TOP,
        sx1: wx(1400), sx2: wx(1501), tx: wx(1538),
        rowsY: [1849 - C_TOP, 1947 - C_TOP], base: 22,
        rows: [
          {
            color: PURPLE_B, lw: 12,
            runs: [
              { t: 'Signal+Noise, ', f: sans(64) }, { t: '\u03c1', f: mIt(74) }, { t: '(', f: mUp(74) },
              { t: 't', f: mIt(74) }, { t: ')', f: mUp(74) }, { t: 'Max', f: mIt(53), dy: 14 },
              { t: ' Loc.: 207.5 ns', f: sans(64) },
            ],
          },
          { color: ORANGE_B, lw: 12, runs: [{ t: 'Noise', f: sans(64) }] },
        ],
      },
    },
  });
}

export default function App() {
  const refA = useRef<HTMLCanvasElement>(null);
  const refB = useRef<HTMLCanvasElement>(null);
  const refC = useRef<HTMLCanvasElement>(null);

  useEffect(() => {
    const charts = [
      new Chart(refA.current as HTMLCanvasElement, configA()),
      new Chart(refB.current as HTMLCanvasElement, configB()),
      new Chart(refC.current as HTMLCanvasElement, configC()),
    ];
    return () => charts.forEach((c) => c.destroy());
  }, []);

  const cv = (top: number, h: number) => ({
    position: 'absolute' as const, left: 0, top, width: CANVAS_W, height: h, display: 'block',
  });

  return (
    <div style={{ position: 'absolute', left: 0, top: 0, width: PAGE_W, height: PAGE_H, overflow: 'hidden', background: '#fff' }}>
      <div style={{ position: 'absolute', left: 0, top: 0, width: CANVAS_W, height: PAGE_H, transform: `scaleX(${SX})`, transformOrigin: '0 0' }}>
        <canvas ref={refA} width={CANVAS_W} height={A_H} style={cv(A_TOP, A_H)} />
        <canvas ref={refB} width={CANVAS_W} height={B_H} style={cv(B_TOP, B_H)} />
        <canvas ref={refC} width={CANVAS_W} height={C_H} style={cv(C_TOP, C_H)} />
      </div>
      <div style={{ position: 'absolute', left: 8, top: 0, width: 51, height: PAGE_H, background: '#2270cc' }} />
      <div style={{ position: 'absolute', left: 8, top: 0, width: PAGE_W - 8, height: 11, background: '#2270cc' }} />
      <div style={{ position: 'absolute', left: 59, top: 11, width: 2, height: PAGE_H - 11, background: '#7fb0e6' }} />
    </div>
  );
}
